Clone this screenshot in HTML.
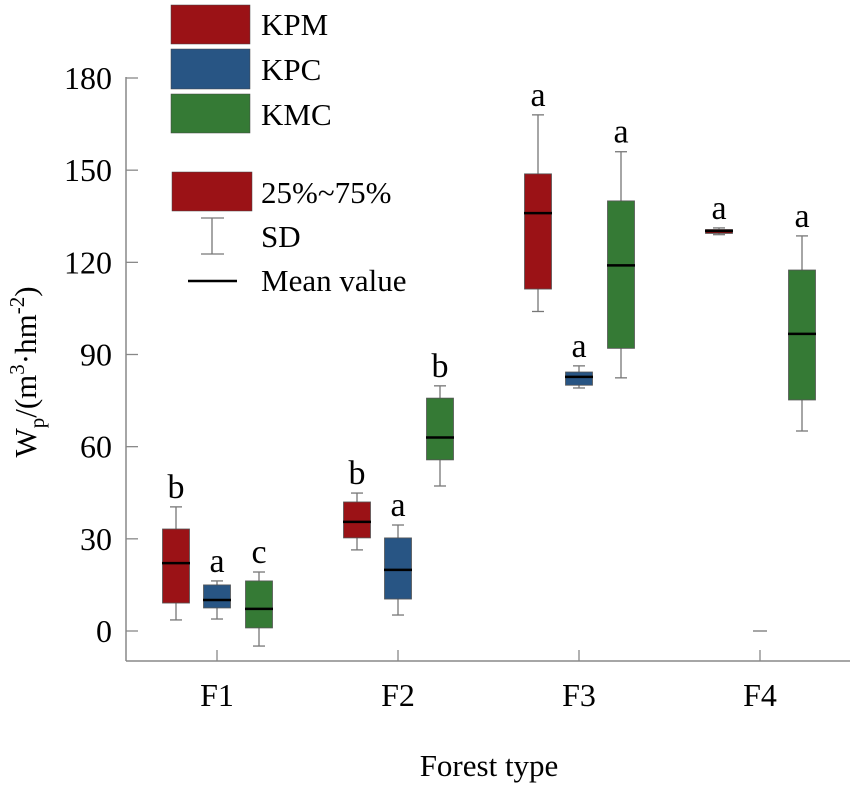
<!DOCTYPE html>
<html><head><meta charset="utf-8"><style>
body{margin:0;background:#fff;}
svg, svg text{font-family:"Liberation Serif","DejaVu Serif",serif !important;}
</style></head><body>
<svg id="chart" width="850" height="785" xmlns="http://www.w3.org/2000/svg" font-family="Liberation Serif, DejaVu Serif, serif">
<g id="axes"></g><g id="marks"></g>
<g id="legend">
 <rect x="171" y="5" width="79" height="39" fill="#9b1216" stroke="#444" stroke-width="0.5"/>
 <text x="261" y="35" font-size="31">KPM</text>
 <rect x="171" y="49" width="79" height="40" fill="#285584" stroke="#444" stroke-width="0.5"/>
 <text x="261" y="80" font-size="31">KPC</text>
 <rect x="171" y="94" width="79" height="39" fill="#357a35" stroke="#444" stroke-width="0.5"/>
 <text x="261" y="125" font-size="31">KMC</text>
 <rect x="172" y="172" width="80" height="39" fill="#9b1216" stroke="#444" stroke-width="0.5"/>
 <text x="261" y="203" font-size="31">25%~75%</text>
 <g stroke="#777" stroke-width="1.3">
  <line x1="212" y1="218" x2="212" y2="254"/><line x1="201" y1="218" x2="224" y2="218"/><line x1="201" y1="254" x2="224" y2="254"/>
 </g>
 <text x="261" y="247" font-size="31">SD</text>
 <line x1="188" y1="281" x2="237" y2="281" stroke="#000" stroke-width="2.5"/>
 <text x="261" y="291" font-size="31">Mean value</text>
</g>
<text transform="translate(36,372) rotate(-90)" text-anchor="middle" font-size="31">W<tspan font-size="21" dy="8">p</tspan><tspan dy="-8">/(m</tspan><tspan font-size="21" dy="-12">3</tspan><tspan dy="12">·hm</tspan><tspan font-size="21" dy="-12">-2</tspan><tspan dy="12">)</tspan></text>
<text x="489" y="776" text-anchor="middle" font-size="31">Forest type</text>
</svg>
<script>
const categories=["F1","F2","F3","F4"];
const series=["KPM","KPC","KMC"];
const colors=["#9b1216","#285584","#357a35"];
const q1=[[9.1,30.3,111.3,129.4],[7.5,10.4,80,null],[1,55.7,92,75.2]];
const q3=[[33.2,42,148.8,130.7],[15,30.3,84.3,null],[16.3,75.8,140,117.5]];
const means=[[22.1,35.5,136,130.2],[10.1,19.9,82.7,0],[7.2,63,119,96.7]];
const wLow=[[3.6,26.4,104,129],[3.9,5.2,79.1,null],[-4.9,47.2,82.4,65.1]];
const wHigh=[[40.4,44.9,168,131.2],[16.3,34.5,86.3,null],[19.2,79.8,156,128.6]];
const letters=[["b","b","a","a"],["a","a","a",""],["c","b","a","a"]];
const yTicks=[0,30,60,90,120,150,180];
const NS="http://www.w3.org/2000/svg";
const y=v=>631-v*(553/180);
const xc=i=>217+i*181;
const off=[-41,0,42];
function mk(parent,tag,attrs){const e=document.createElementNS(NS,tag);for(const k in attrs)e.setAttribute(k,attrs[k]);parent.appendChild(e);return e;}
const ax=document.getElementById("axes"),mg=document.getElementById("marks");
let a=mk(ax,"line",{x1:126,y1:77,x2:126,y2:661,stroke:"#888","stroke-width":1.5});


a=mk(ax,"line",{x1:126,y1:661,x2:850,y2:661,stroke:"#888","stroke-width":1.5});


yTicks.forEach(t=>{
 const l=mk(ax,"line",{x1:126,y1:y(t),x2:138,y2:y(t),stroke:"#888","stroke-width":1.3});
 
 
 const tx=mk(ax,"text",{x:112,y:y(t)+11,"text-anchor":"end","font-size":32});
 tx.textContent=t;
 
 
});
categories.forEach((c,i)=>{
 const l=mk(ax,"line",{x1:xc(i),y1:650,x2:xc(i),y2:661,stroke:"#888","stroke-width":1.3});
 
 
 const tx=mk(ax,"text",{x:xc(i),y:706,"text-anchor":"middle","font-size":32});
 tx.textContent=c;
 
 
});
series.forEach((s,si)=>{
 categories.forEach((c,ci)=>{
  const cx=xc(ci)+off[si];
  const g=mk(mg,"g",{});
  
  
  if(q1[si][ci]===null){
   mk(g,"line",{x1:cx-7,y1:y(means[si][ci]),x2:cx+7,y2:y(means[si][ci]),stroke:"#777","stroke-width":1.3});
   return;
  }
  const hi=wHigh[si][ci],lo=wLow[si][ci];
  mk(g,"line",{x1:cx,y1:y(hi),x2:cx,y2:y(lo),stroke:"#777","stroke-width":1.3});
  mk(g,"line",{x1:cx-6,y1:y(hi),x2:cx+6,y2:y(hi),stroke:"#777","stroke-width":1.3});
  mk(g,"line",{x1:cx-6,y1:y(lo),x2:cx+6,y2:y(lo),stroke:"#777","stroke-width":1.3});
  mk(g,"rect",{x:cx-13.5,y:y(q3[si][ci]),width:27,height:Math.max(2,y(q1[si][ci])-y(q3[si][ci])),fill:colors[si],stroke:"#555","stroke-width":0.8});
  mk(g,"line",{x1:cx-14,y1:y(means[si][ci]),x2:cx+14,y2:y(means[si][ci]),stroke:"#000","stroke-width":2.5});
  if(letters[si][ci]){
   const t=mk(g,"text",{x:cx,y:y(hi)-9,"text-anchor":"middle","font-size":34});
   t.textContent=letters[si][ci];
   
   
  }
 });
});
</script>
</body></html>
